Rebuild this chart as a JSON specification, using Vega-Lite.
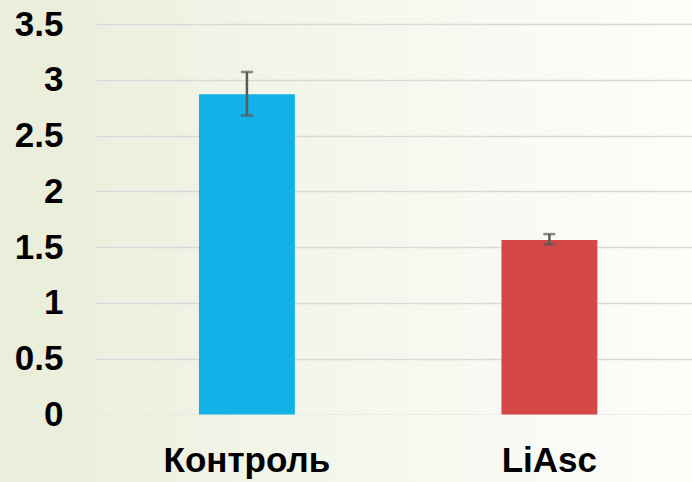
{
  "$schema": "https://vega.github.io/schema/vega-lite/v6.json",
  "autosize": "none",
  "width": 596,
  "height": 390.5,
  "padding": {"left": 96, "top": 24, "right": 0, "bottom": 67.5},
  "background": "#EAEEDB",
  "config": {
    "view": {
      "stroke": null,
      "fill": {"gradient": "linear", "x1": 0, "y1": 0, "x2": 1, "y2": 0, "stops": [{"offset": 0, "color": "#ECF0DF"}, {"offset": 0.5, "color": "#F6F8EF"}, {"offset": 1, "color": "#FDFDFA"}]}
    },
    "axis": {"labelFont": "Liberation Sans", "labelFontWeight": "bold", "labelColor": "#000000"}
  },
  "data": {
    "values": [
      {"group": "Контроль", "value": 2.87, "lo": 2.68, "hi": 3.07, "color": "#13B1E7"},
      {"group": "LiAsc", "value": 1.565, "lo": 1.525, "hi": 1.617, "color": "#D34747"}
    ]
  },
  "layer": [
    {
      "data": {"values": [{}]},
      "mark": {"type": "rect", "fill": {"gradient": "linear", "x1": 0, "y1": 0, "x2": 1, "y2": 0, "stops": [{"offset": 0, "color": "#ECF0DF"}, {"offset": 0.5, "color": "#F6F8EF"}, {"offset": 1, "color": "#FDFDFA"}]}},
      "encoding": {
        "y": {"datum": -0.004, "type": "quantitative"},
        "y2": {"datum": -0.61}
      }
    },
    {
      "data": {"values": [{}]},
      "mark": {"type": "rect", "fill": {"gradient": "linear", "x1": 0, "y1": 0, "x2": 1, "y2": 0, "stops": [{"offset": 0, "color": "#ECF0DF"}, {"offset": 0.5, "color": "#F6F8EF"}, {"offset": 1, "color": "#FDFDFA"}]}},
      "encoding": {
        "y": {"datum": 3.505, "type": "quantitative"},
        "y2": {"datum": 3.73}
      }
    },
    {
      "mark": {"type": "bar"},
      "encoding": {
        "x": {
          "field": "group",
          "type": "nominal",
          "sort": null,
          "scale": {"paddingInner": 0.683, "paddingOuter": 0.3267, "align": 0.521},
          "axis": {"title": null, "labelAngle": 0, "labelFontSize": 35, "labelBaseline": "alphabetic", "labelPadding": 57, "domain": false, "ticks": false, "zindex": 1}
        },
        "y": {
          "field": "value",
          "type": "quantitative",
          "scale": {"domain": [0, 3.5], "nice": false},
          "axis": {"title": null, "values": [0, 0.5, 1, 1.5, 2, 2.5, 3, 3.5], "labelExpr": "'' + datum.value", "labelFontSize": 35, "labelPadding": 33, "domain": false, "ticks": false, "grid": true, "gridColor": "#D9D9D9", "gridWidth": 1.5}
        },
        "color": {"field": "color", "type": "nominal", "scale": null}
      }
    },
    {
      "mark": {"type": "rule", "color": "#595959", "strokeWidth": 2.5},
      "encoding": {"x": {"field": "group", "type": "nominal", "sort": null}, "y": {"field": "lo", "type": "quantitative"}, "y2": {"field": "hi"}}
    },
    {
      "mark": {"type": "tick", "color": "#595959", "thickness": 2.5, "size": 12, "orient": "horizontal"},
      "encoding": {"x": {"field": "group", "type": "nominal", "sort": null}, "y": {"field": "lo", "type": "quantitative"}}
    },
    {
      "mark": {"type": "tick", "color": "#595959", "thickness": 2.5, "size": 12, "orient": "horizontal"},
      "encoding": {"x": {"field": "group", "type": "nominal", "sort": null}, "y": {"field": "hi", "type": "quantitative"}}
    }
  ]
}
